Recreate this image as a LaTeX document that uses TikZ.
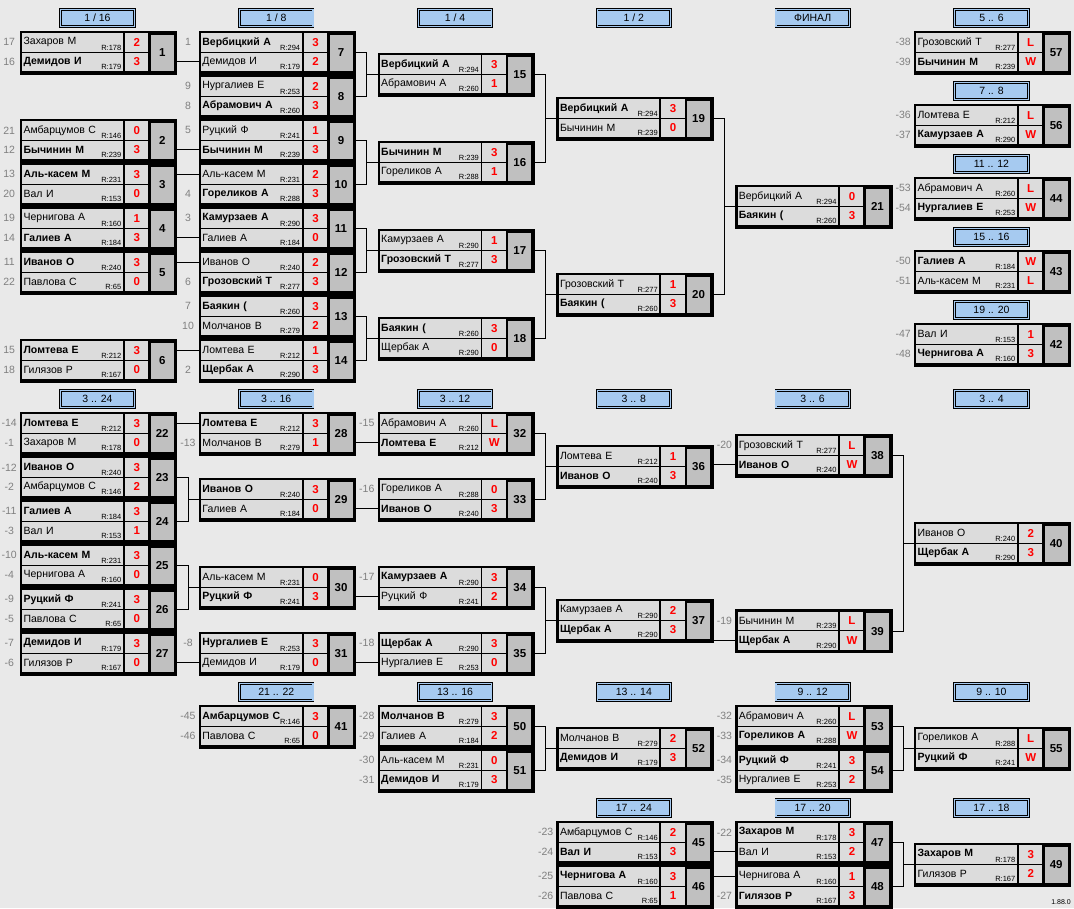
\documentclass[tikz,border=0pt]{standalone}
\usepackage{fontspec}
\setmainfont{Liberation Sans}
\usetikzlibrary{calc,positioning}
\pgfdeclarelayer{back}
\pgfsetlayers{back,main}

\definecolor{bggray}{RGB}{233,233,233}
\definecolor{cellgray}{RGB}{220,220,220}
\definecolor{numgray}{RGB}{192,192,192}
\definecolor{hdrblue}{RGB}{166,202,240}
\definecolor{seedgray}{RGB}{128,128,128}
\definecolor{scorered}{RGB}{255,0,0}

\tikzset{
  namecell/.style={draw, line width=0.8pt, fill=cellgray, anchor=north west,
    minimum height=19.5pt, text width=97.7pt, inner xsep=2pt, inner ysep=0pt,
    align=left, font=\fontsize{10.5}{12}\selectfont},
  win/.style={font=\fontsize{10.5}{12}\selectfont\bfseries},
  rating/.style={anchor=south east, inner sep=2.2pt, font=\fontsize{7.5}{8}\selectfont},
  scorecell/.style={draw, line width=0.8pt, fill=cellgray, anchor=north west,
    minimum width=25.3pt, minimum height=19.5pt, inner sep=0pt, text=scorered,
    font=\fontsize{11.5}{12}\selectfont\bfseries},
  seednum/.style={text=seedgray, font=\fontsize{10.5}{12}\selectfont},
  numcell/.style={draw, line width=2.5pt, fill=numgray, anchor=north west,
    minimum width=25.5pt, minimum height=39pt, inner sep=0pt,
    font=\fontsize{11.5}{12}\selectfont\bfseries},
  gameframe/.style={draw, line width=2.5pt},
  stagebox/.style={draw=black, double=hdrblue, double distance=1.2pt, line width=0.7pt,
    fill=hdrblue, minimum width=73.5pt, minimum height=16.5pt, inner sep=0pt,
    font=\fontsize{10.5}{12}\selectfont},
  wire/.style={line width=1pt},
}

% match: id, top-left corner, number
\newcommand{\game}[3]{%
  \coordinate (#1) at (#2);
  \node[numcell] (#1n) at ($(#1)+(127pt,0)$) {#3};
  \draw[gameframe] (#1) rectangle (#1n.south east);
}
% player row: [style], id, row a/b, seed, name, rating, score
\newcommand{\plr}[7][]{%
  \begin{pgfonlayer}{back}
  \if#3a\coordinate (#2#3t) at (#2);\else\coordinate (#2#3t) at ($(#2)+(0,19.5)$);\fi
  \node[namecell,#1] (#2#3) at (#2#3t) {#5};
  \node[rating] (#2#3r) at (#2#3.south east) {R:#6};
  \node[scorecell] (#2#3s) at (#2#3.north east) {#7};
  \node[seednum] (#2#3l) at ($(#2#3.west)+(-12pt,0)$) {#4};
  \end{pgfonlayer}
}
\newcommand{\stage}[3]{\node[stagebox] (#1) at (#2) {#3};}
\newcommand{\feed}[2]{\draw[wire] (#1n.east |- #2.west) -- (#2.west);}
\newcommand{\bracket}[3]{%
  \coordinate (#3v) at ($(#1n.east)!.5!(#3a.south west)$);
  \draw[wire] (#1n.east) -| (#3v) |- (#2n.east);
  \draw[wire] (#3v |- #3a.south west) -- (#3a.south west);
}

\begin{document}
\begin{tikzpicture}[x=1pt,y=-1pt]
\begin{pgfonlayer}{back}
\fill[bggray] (0,0) rectangle (1074,908);
\end{pgfonlayer}
\useasboundingbox (0,0) rectangle (1074,908);

\begin{scope}[shift={(1.2,1.2)}]
% headers
\stage{h116}{96.25,16.8}{1 / 16}
\stage{h18}{275.05,16.8}{1 / 8}
\stage{h14}{453.85,16.8}{1 / 4}
\stage{h12}{632.65,16.8}{1 / 2}
\stage{hfin}{811.45,16.8}{ФИНАЛ}
\stage{h56}{990.25,16.8}{5 .. 6}
\stage{h78}{990.25,89.8}{7 .. 8}
\stage{h1112}{990.25,162.8}{11 .. 12}
\stage{h1516}{990.25,235.8}{15 .. 16}
\stage{h1920}{990.25,308.8}{19 .. 20}
\stage{h324}{96.25,397.8}{3 .. 24}
\stage{h316}{275.05,397.8}{3 .. 16}
\stage{h312}{453.85,397.8}{3 .. 12}
\stage{h38}{632.65,397.8}{3 .. 8}
\stage{h36}{811.45,397.8}{3 .. 6}
\stage{h34}{990.25,397.8}{3 .. 4}
\stage{h2122}{275.05,690.8}{21 .. 22}
\stage{h1316}{453.85,690.8}{13 .. 16}
\stage{h1314}{632.65,690.8}{13 .. 14}
\stage{h912}{811.45,690.8}{9 .. 12}
\stage{h910}{990.25,690.8}{9 .. 10}
\stage{h1724}{632.65,806.8}{17 .. 24}
\stage{h1720}{811.45,806.8}{17 .. 20}
\stage{h1718}{990.25,806.8}{17 .. 18}

% 1/16
\game{m1}{20,31}{1}
\plr{m1}{a}{17}{Захаров М}{178}{2}
\plr[win]{m1}{b}{16}{Демидов И}{179}{3}
\game{m2}{20,119}{2}
\plr{m2}{a}{21}{Амбарцумов С}{146}{0}
\plr[win]{m2}{b}{12}{Бычинин М}{239}{3}
\game{m3}{20,163}{3}
\plr[win]{m3}{a}{13}{Аль-касем М}{231}{3}
\plr{m3}{b}{20}{Вал И}{153}{0}
\game{m4}{20,207}{4}
\plr{m4}{a}{19}{Чернигова А}{160}{1}
\plr[win]{m4}{b}{14}{Галиев А}{184}{3}
\game{m5}{20,251}{5}
\plr[win]{m5}{a}{11}{Иванов О}{240}{3}
\plr{m5}{b}{22}{Павлова С}{65}{0}
\game{m6}{20,339}{6}
\plr[win]{m6}{a}{15}{Ломтева Е}{212}{3}
\plr{m6}{b}{18}{Гилязов Р}{167}{0}

% 1/8
\game{m7}{198.8,31}{7}
\plr[win]{m7}{a}{1}{Вербицкий А}{294}{3}
\plr{m7}{b}{}{Демидов И}{179}{2}
\game{m8}{198.8,75}{8}
\plr{m8}{a}{9}{Нургалиев Е}{253}{2}
\plr[win]{m8}{b}{8}{Абрамович А}{260}{3}
\game{m9}{198.8,119}{9}
\plr{m9}{a}{5}{Руцкий Ф}{241}{1}
\plr[win]{m9}{b}{}{Бычинин М}{239}{3}
\game{m10}{198.8,163}{10}
\plr{m10}{a}{}{Аль-касем М}{231}{2}
\plr[win]{m10}{b}{4}{Гореликов А}{288}{3}
\game{m11}{198.8,207}{11}
\plr[win]{m11}{a}{3}{Камурзаев А}{290}{3}
\plr{m11}{b}{}{Галиев А}{184}{0}
\game{m12}{198.8,251}{12}
\plr{m12}{a}{}{Иванов О}{240}{2}
\plr[win]{m12}{b}{6}{Грозовский Т}{277}{3}
\game{m13}{198.8,295}{13}
\plr[win]{m13}{a}{7}{Баякин (}{260}{3}
\plr{m13}{b}{10}{Молчанов В}{279}{2}
\game{m14}{198.8,339}{14}
\plr{m14}{a}{}{Ломтева Е}{212}{1}
\plr[win]{m14}{b}{2}{Щербак А}{290}{3}

% 1/4, 1/2, final
\game{m15}{377.6,53}{15}
\plr[win]{m15}{a}{}{Вербицкий А}{294}{3}
\plr{m15}{b}{}{Абрамович А}{260}{1}
\game{m16}{377.6,141}{16}
\plr[win]{m16}{a}{}{Бычинин М}{239}{3}
\plr{m16}{b}{}{Гореликов А}{288}{1}
\game{m17}{377.6,229}{17}
\plr{m17}{a}{}{Камурзаев А}{290}{1}
\plr[win]{m17}{b}{}{Грозовский Т}{277}{3}
\game{m18}{377.6,317}{18}
\plr[win]{m18}{a}{}{Баякин (}{260}{3}
\plr{m18}{b}{}{Щербак А}{290}{0}
\game{m19}{556.4,97}{19}
\plr[win]{m19}{a}{}{Вербицкий А}{294}{3}
\plr{m19}{b}{}{Бычинин М}{239}{0}
\game{m20}{556.4,273}{20}
\plr{m20}{a}{}{Грозовский Т}{277}{1}
\plr[win]{m20}{b}{}{Баякин (}{260}{3}
\game{m21}{735.2,185}{21}
\plr{m21}{a}{}{Вербицкий А}{294}{0}
\plr[win]{m21}{b}{}{Баякин (}{260}{3}

% places 5..20
\game{m57}{914,31}{57}
\plr{m57}{a}{-38}{Грозовский Т}{277}{L}
\plr[win]{m57}{b}{-39}{Бычинин М}{239}{W}
\game{m56}{914,104}{56}
\plr{m56}{a}{-36}{Ломтева Е}{212}{L}
\plr[win]{m56}{b}{-37}{Камурзаев А}{290}{W}
\game{m44}{914,177}{44}
\plr{m44}{a}{-53}{Абрамович А}{260}{L}
\plr[win]{m44}{b}{-54}{Нургалиев Е}{253}{W}
\game{m43}{914,250}{43}
\plr[win]{m43}{a}{-50}{Галиев А}{184}{W}
\plr{m43}{b}{-51}{Аль-касем М}{231}{L}
\game{m42}{914,323}{42}
\plr{m42}{a}{-47}{Вал И}{153}{1}
\plr[win]{m42}{b}{-48}{Чернигова А}{160}{3}

% 3..24
\game{m22}{20,412}{22}
\plr[win]{m22}{a}{-14}{Ломтева Е}{212}{3}
\plr{m22}{b}{-1}{Захаров М}{178}{0}
\game{m23}{20,456}{23}
\plr[win]{m23}{a}{-12}{Иванов О}{240}{3}
\plr{m23}{b}{-2}{Амбарцумов С}{146}{2}
\game{m24}{20,500}{24}
\plr[win]{m24}{a}{-11}{Галиев А}{184}{3}
\plr{m24}{b}{-3}{Вал И}{153}{1}
\game{m25}{20,544}{25}
\plr[win]{m25}{a}{-10}{Аль-касем М}{231}{3}
\plr{m25}{b}{-4}{Чернигова А}{160}{0}
\game{m26}{20,588}{26}
\plr[win]{m26}{a}{-9}{Руцкий Ф}{241}{3}
\plr{m26}{b}{-5}{Павлова С}{65}{0}
\game{m27}{20,632}{27}
\plr[win]{m27}{a}{-7}{Демидов И}{179}{3}
\plr{m27}{b}{-6}{Гилязов Р}{167}{0}

% 3..16
\game{m28}{198.8,412}{28}
\plr[win]{m28}{a}{}{Ломтева Е}{212}{3}
\plr{m28}{b}{-13}{Молчанов В}{279}{1}
\game{m29}{198.8,478}{29}
\plr[win]{m29}{a}{}{Иванов О}{240}{3}
\plr{m29}{b}{}{Галиев А}{184}{0}
\game{m30}{198.8,566}{30}
\plr{m30}{a}{}{Аль-касем М}{231}{0}
\plr[win]{m30}{b}{}{Руцкий Ф}{241}{3}
\game{m31}{198.8,632}{31}
\plr[win]{m31}{a}{-8}{Нургалиев Е}{253}{3}
\plr{m31}{b}{}{Демидов И}{179}{0}

% 3..12
\game{m32}{377.6,412}{32}
\plr{m32}{a}{-15}{Абрамович А}{260}{L}
\plr[win]{m32}{b}{}{Ломтева Е}{212}{W}
\game{m33}{377.6,478}{33}
\plr{m33}{a}{-16}{Гореликов А}{288}{0}
\plr[win]{m33}{b}{}{Иванов О}{240}{3}
\game{m34}{377.6,566}{34}
\plr[win]{m34}{a}{-17}{Камурзаев А}{290}{3}
\plr{m34}{b}{}{Руцкий Ф}{241}{2}
\game{m35}{377.6,632}{35}
\plr[win]{m35}{a}{-18}{Щербак А}{290}{3}
\plr{m35}{b}{}{Нургалиев Е}{253}{0}

% 3..8, 3..6, 3..4
\game{m36}{556.4,445}{36}
\plr{m36}{a}{}{Ломтева Е}{212}{1}
\plr[win]{m36}{b}{}{Иванов О}{240}{3}
\game{m37}{556.4,599}{37}
\plr{m37}{a}{}{Камурзаев А}{290}{2}
\plr[win]{m37}{b}{}{Щербак А}{290}{3}
\game{m38}{735.2,434}{38}
\plr{m38}{a}{-20}{Грозовский Т}{277}{L}
\plr[win]{m38}{b}{}{Иванов О}{240}{W}
\game{m39}{735.2,609.5}{39}
\plr{m39}{a}{-19}{Бычинин М}{239}{L}
\plr[win]{m39}{b}{}{Щербак А}{290}{W}
\game{m40}{914,522}{40}
\plr{m40}{a}{}{Иванов О}{240}{2}
\plr[win]{m40}{b}{}{Щербак А}{290}{3}

% lower places
\game{m41}{198.8,705}{41}
\plr[win]{m41}{a}{-45}{Амбарцумов С}{146}{3}
\plr{m41}{b}{-46}{Павлова С}{65}{0}
\game{m50}{377.6,705}{50}
\plr[win]{m50}{a}{-28}{Молчанов В}{279}{3}
\plr{m50}{b}{-29}{Галиев А}{184}{2}
\game{m51}{377.6,749}{51}
\plr{m51}{a}{-30}{Аль-касем М}{231}{0}
\plr[win]{m51}{b}{-31}{Демидов И}{179}{3}
\game{m52}{556.4,727}{52}
\plr{m52}{a}{}{Молчанов В}{279}{2}
\plr[win]{m52}{b}{}{Демидов И}{179}{3}
\game{m53}{735.2,705}{53}
\plr{m53}{a}{-32}{Абрамович А}{260}{L}
\plr[win]{m53}{b}{-33}{Гореликов А}{288}{W}
\game{m54}{735.2,749}{54}
\plr[win]{m54}{a}{-34}{Руцкий Ф}{241}{3}
\plr{m54}{b}{-35}{Нургалиев Е}{253}{2}
\game{m55}{914,727}{55}
\plr{m55}{a}{}{Гореликов А}{288}{L}
\plr[win]{m55}{b}{}{Руцкий Ф}{241}{W}
\game{m45}{556.4,821}{45}
\plr{m45}{a}{-23}{Амбарцумов С}{146}{2}
\plr[win]{m45}{b}{-24}{Вал И}{153}{3}
\game{m46}{556.4,865}{46}
\plr[win]{m46}{a}{-25}{Чернигова А}{160}{3}
\plr{m46}{b}{-26}{Павлова С}{65}{1}
\game{m47}{735.2,821}{47}
\plr[win]{m47}{a}{-22}{Захаров М}{178}{3}
\plr{m47}{b}{}{Вал И}{153}{2}
\game{m48}{735.2,865}{48}
\plr{m48}{a}{}{Чернигова А}{160}{1}
\plr[win]{m48}{b}{-27}{Гилязов Р}{167}{3}
\game{m49}{914,843}{49}
\plr[win]{m49}{a}{}{Захаров М}{178}{3}
\plr{m49}{b}{}{Гилязов Р}{167}{2}

% connectors
\feed{m1}{m7b} \feed{m2}{m9b} \feed{m3}{m10a}
\feed{m4}{m11b} \feed{m5}{m12a} \feed{m6}{m14a}
\bracket{m7}{m8}{m15} \bracket{m9}{m10}{m16}
\bracket{m11}{m12}{m17} \bracket{m13}{m14}{m18}
\bracket{m15}{m16}{m19} \bracket{m17}{m18}{m20}
\bracket{m19}{m20}{m21}
\feed{m22}{m28a} \bracket{m23}{m24}{m29}
\bracket{m25}{m26}{m30} \feed{m27}{m31b}
\feed{m28}{m32b} \feed{m29}{m33b} \feed{m30}{m34b} \feed{m31}{m35b}
\bracket{m32}{m33}{m36} \bracket{m34}{m35}{m37}
\feed{m36}{m38b} \feed{m37}{m39b}
\bracket{m38}{m39}{m40}
\bracket{m50}{m51}{m52} \bracket{m53}{m54}{m55}
\feed{m45}{m47b} \feed{m46}{m48a}
\bracket{m47}{m48}{m49}
\end{scope}

\node[font=\fontsize{7}{8}\selectfont] (ver) at (1061,902) {1.88.0};
\end{tikzpicture}
\end{document}
